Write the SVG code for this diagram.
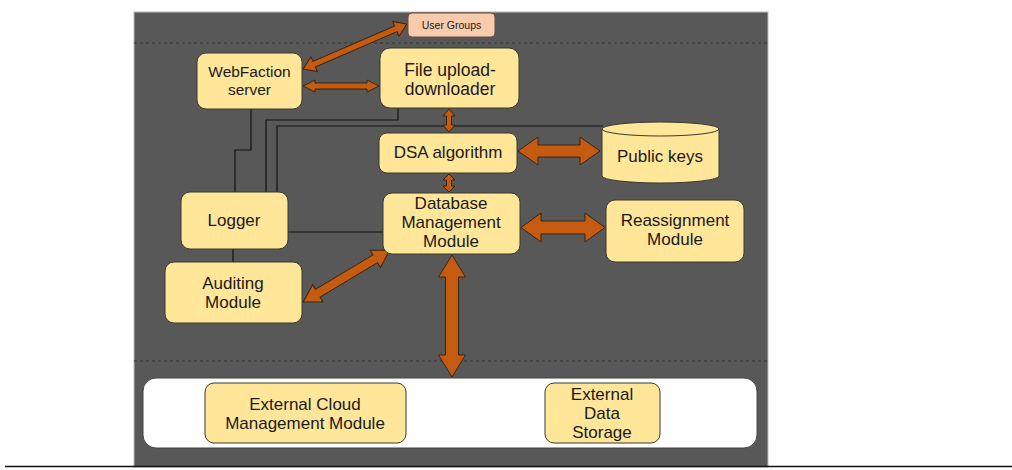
<svg xmlns="http://www.w3.org/2000/svg" width="1012" height="470" viewBox="0 0 1012 470">
<style>
.node{fill:#ffe699;stroke:#3a3a2a;stroke-width:1}
.t{font-family:"Liberation Sans",Arial,sans-serif;fill:#1a1a1a;text-anchor:middle;font-size:17px}
.arr{fill:#c55a11;stroke:#3b2410;stroke-width:1}
.ln{fill:none;stroke:#111;stroke-width:1.2}
.dash{stroke:#333;stroke-width:1.2;stroke-dasharray:3 3}
</style>
<rect x="0" y="0" width="1012" height="470" fill="#ffffff"/>
<rect x="134" y="12" width="634" height="455" fill="#585858" stroke="#bbbbbb" stroke-width="1"/>
<line x1="5" y1="466.5" x2="1012" y2="466.5" stroke="#111" stroke-width="1.5"/>
<line class="dash" x1="134" y1="43" x2="768" y2="43"/>
<line class="dash" x1="134" y1="361" x2="768" y2="361"/>
<rect x="143" y="378" width="614" height="70" rx="13" fill="#ffffff" stroke="#444" stroke-width="1"/>

<g id="connectors">
<path class="ln" d="M251,109 V150 H235 V192"/>
<path class="ln" d="M266,192 V120 H398 V108"/>
<path class="ln" d="M277,192 V126 H603"/>
<path class="ln" d="M288,232 H383"/>
<path class="ln" d="M233,249 V262"/>
<polygon class="arr" transform="translate(355,46.5) rotate(-23.4)" points="-56.5,0 -44.5,-8 -44.5,-3 44.5,-3 44.5,-8 56.5,0 44.5,8 44.5,3 -44.5,3 -44.5,8"/>
<polygon class="arr" transform="translate(341,86)" points="-38,0 -26,-6 -26,-3 26,-3 26,-6 38,0 26,6 26,3 -26,3 -26,6"/>
<polygon class="arr" transform="translate(449,120.5) rotate(90)" points="-11.5,0 -4.5,-6 -4.5,-2.5 4.5,-2.5 4.5,-6 11.5,0 4.5,6 4.5,2.5 -4.5,2.5 -4.5,6"/>
<polygon class="arr" transform="translate(449,183) rotate(90)" points="-9,0 -3,-6 -3,-2.5 3,-2.5 3,-6 9,0 3,6 3,2.5 -3,2.5 -3,6"/>
<polygon class="arr" transform="translate(559,151)" points="-41,0 -21,-14 -21,-6 21,-6 21,-14 41,0 21,14 21,6 -21,6 -21,14"/>
<polygon class="arr" transform="translate(563,227.5)" points="-42,0 -22,-14.5 -22,-6.5 22,-6.5 22,-14.5 42,0 22,14.5 22,6.5 -22,6.5 -22,14.5"/>
<polygon class="arr" transform="translate(346.5,276) rotate(-30.9)" points="-50.5,0 -33.5,-10 -33.5,-4.5 33.5,-4.5 33.5,-10 50.5,0 33.5,10 33.5,4.5 -33.5,4.5 -33.5,10"/>
<polygon class="arr" transform="translate(452,316) rotate(90)" points="-61,0 -39,-13.5 -39,-6.5 39,-6.5 39,-13.5 61,0 39,13.5 39,6.5 -39,6.5 -39,13.5"/>
</g>

<g id="user-groups">
<rect x="408" y="13" width="87" height="24" rx="4" fill="#f8cbad" stroke="#6a4a3a" stroke-width="1"/>
<text class="t" x="451.5" y="29" style="font-size:10.5px">User Groups</text>
</g>
<g id="webfaction">
<rect class="node" x="197" y="53" width="105" height="56" rx="9"/>
<text class="t" x="249.5" y="77" style="font-size:15.5px">WebFaction</text>
<text class="t" x="249.5" y="95" style="font-size:15.5px">server</text>
</g>
<g id="file-upload">
<rect class="node" x="380" y="48" width="139" height="60" rx="10"/>
<text class="t" x="450" y="75.5" style="font-size:17.5px">File upload-</text>
<text class="t" x="450" y="95" style="font-size:17.5px">downloader</text>
</g>
<g id="dsa">
<rect class="node" x="379" y="133" width="138" height="40" rx="8"/>
<text class="t" x="448" y="158">DSA algorithm</text>
</g>
<g id="public-keys">
<path class="node" d="M602,129 V176 A58.5,7 0 0 0 719,176 V129 A58.5,7 0 0 0 602,129 Z"/>
<path d="M602,129 A58.5,7 0 0 0 719,129" fill="none" stroke="#3a3a2a" stroke-width="1"/>
<text class="t" x="660" y="162">Public keys</text>
</g>
<g id="logger">
<rect class="node" x="181" y="192" width="107" height="57" rx="9"/>
<text class="t" x="234" y="226">Logger</text>
</g>
<g id="database">
<rect class="node" x="383" y="193" width="137" height="61" rx="9"/>
<text class="t" x="451" y="209">Database</text>
<text class="t" x="451" y="228">Management</text>
<text class="t" x="451" y="247">Module</text>
</g>
<g id="reassignment">
<rect class="node" x="606" y="200" width="138" height="62" rx="9"/>
<text class="t" x="675" y="226">Reassignment</text>
<text class="t" x="675" y="245">Module</text>
</g>
<g id="auditing">
<rect class="node" x="165" y="262" width="137" height="61" rx="9"/>
<text class="t" x="233" y="289">Auditing</text>
<text class="t" x="233" y="308">Module</text>
</g>
<g id="external-cloud">
<rect class="node" x="205" y="383" width="201" height="60" rx="9"/>
<text class="t" x="305" y="410">External Cloud</text>
<text class="t" x="305" y="429">Management Module</text>
</g>
<g id="external-storage">
<rect class="node" x="545" y="383" width="115" height="60" rx="9"/>
<text class="t" x="602" y="400">External</text>
<text class="t" x="602" y="419">Data</text>
<text class="t" x="602" y="438">Storage</text>
</g>
</svg>
